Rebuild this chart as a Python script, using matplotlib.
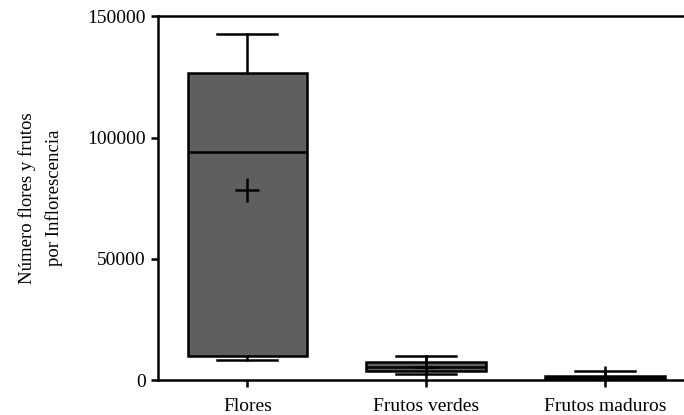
import matplotlib
matplotlib.use("Agg")
import matplotlib.pyplot as plt

# box statistics
categories = ["Flores", "Frutos verdes", "Frutos maduros"]
whisker_low = [8100, 2350, 100]
q1 = [10000, 3830, 200]
median = [94000, 5600, 900]
q3 = [126500, 7300, 1780]
whisker_high = [142500, 9900, 3700]
mean = [78300, 5500, 1000]

yticks = [0, 50000, 100000, 150000]

plt.rcParams['font.family'] = ['Liberation Serif', 'DejaVu Serif']

fig = plt.figure(figsize=(6.84, 4.15), dpi=100)
ax = fig.add_axes([0.231, 0.084, 0.769, 0.877])

stats = []
for i, name in enumerate(categories):
    stats.append(dict(label=name, whislo=whisker_low[i], q1=q1[i], med=median[i],
                      q3=q3[i], whishi=whisker_high[i], mean=mean[i], fliers=[]))

lw = 1.8
ax.bxp(stats, positions=[1, 2, 3], widths=0.67, patch_artist=True,
       showmeans=True, showfliers=False,
       boxprops=dict(facecolor='#5f5f5f', edgecolor='black', linewidth=lw),
       medianprops=dict(color='black', linewidth=lw),
       whiskerprops=dict(color='black', linewidth=lw),
       capprops=dict(color='black', linewidth=lw),
       meanprops=dict(marker='+', markeredgecolor='black', markersize=17,
                      markeredgewidth=lw))

ax.set_xlim(0.5, 3.44)
ax.set_ylim(0, 150000)
ax.set_yticks(yticks)
ax.set_yticklabels([str(t) for t in yticks])
ax.set_xticks([1, 2, 3])
ax.set_xticklabels(categories)

for side in ['left', 'bottom', 'top']:
    ax.spines[side].set_linewidth(lw)
ax.spines['right'].set_visible(False)
ax.tick_params(direction='out', length=5, width=lw, labelsize=14, pad=4)
ax.tick_params(axis='x', pad=8)

ax.set_ylabel("Número flores y frutos\npor Inflorescencia", fontsize=13.5,
              linespacing=1.7)
ax.yaxis.set_label_coords(-0.18, 0.5)

fig.savefig("out.png", dpi=100)
